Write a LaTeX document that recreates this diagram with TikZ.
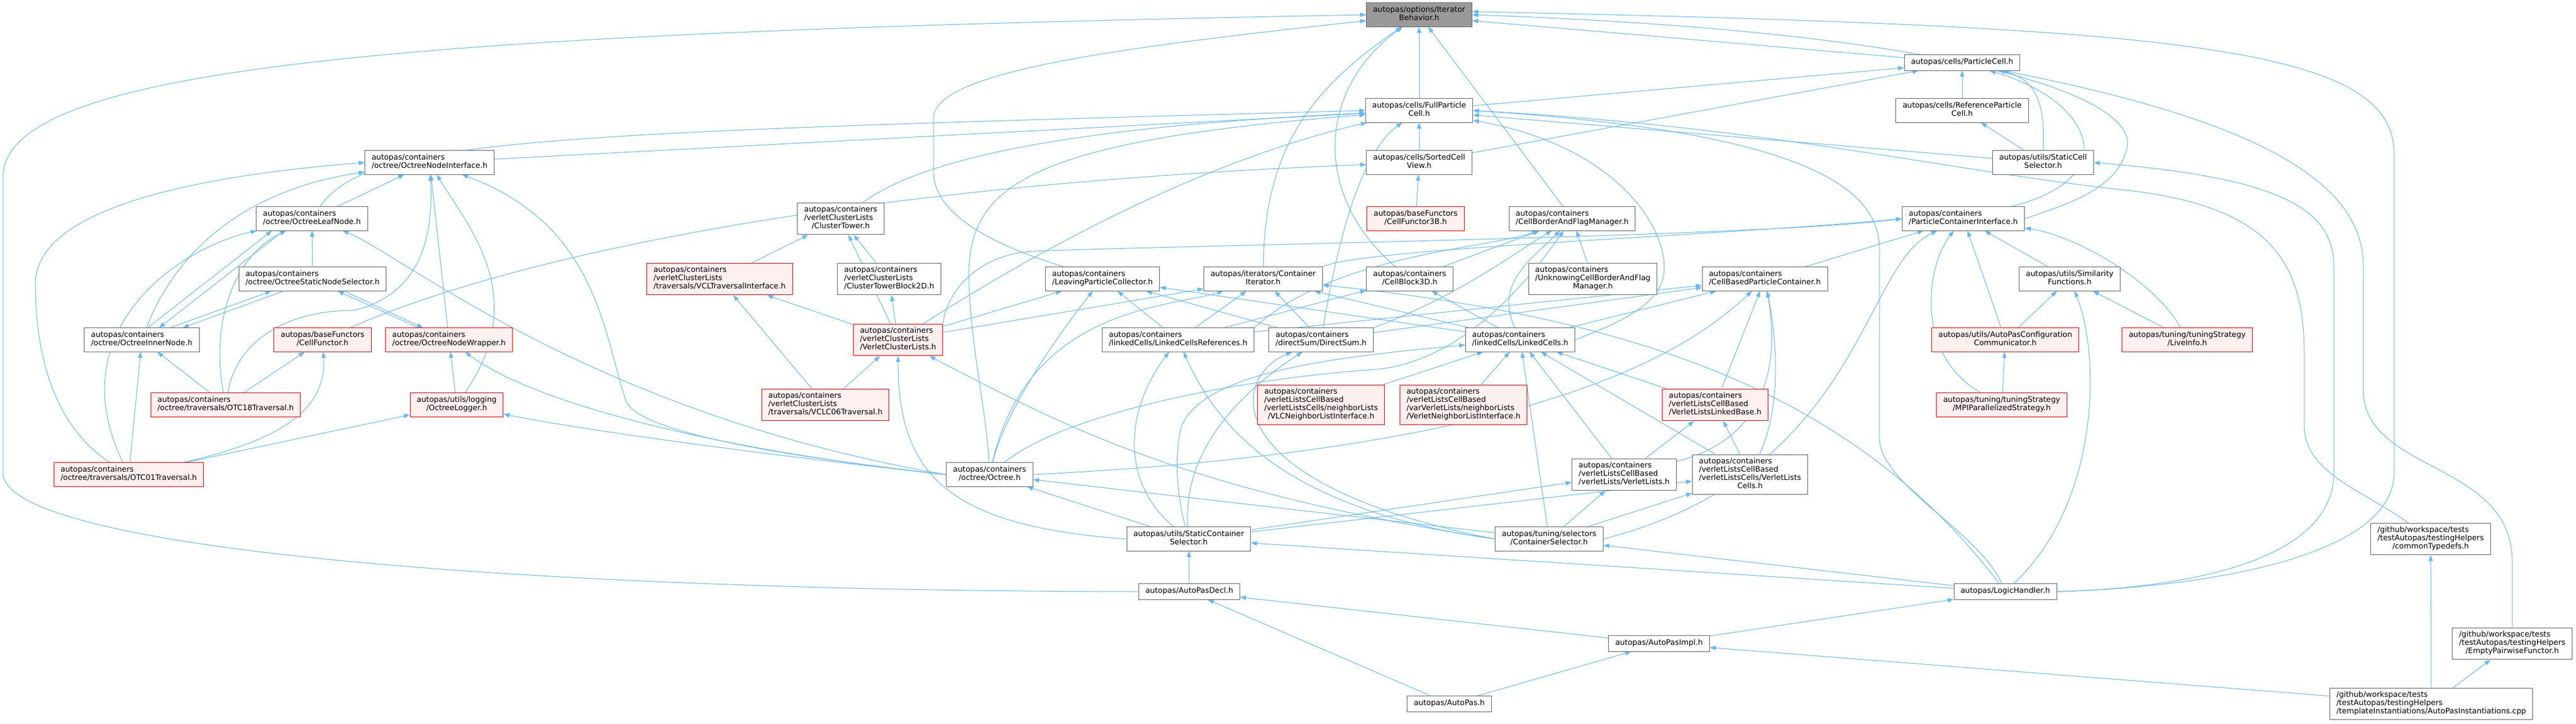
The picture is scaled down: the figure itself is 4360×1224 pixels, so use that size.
\documentclass[tikz,border=0pt]{standalone}
\usepackage{fontspec}
\setmainfont{DejaVu Sans}
\usetikzlibrary{arrows.meta}
\pgfdeclarelayer{background}
\pgfsetlayers{background,main}
\definecolor{edgeblue}{HTML}{63B8FF}
\definecolor{boxgray}{HTML}{666666}
\definecolor{rootgray}{HTML}{999999}
\definecolor{truncpink}{HTML}{FFF0F0}
\newcommand{\hlabel}[2]{\begin{tabular}{@{}l@{}}#1\\\multicolumn{1}{@{}c@{}}{#2}\end{tabular}}
\tikzset{
  incfile/.style={rectangle,draw=boxgray,fill=white,line width=0.75pt,inner xsep=8.5pt,inner ysep=4.6pt,
    font=\fontsize{9.65}{10.3}\selectfont},
  truncfile/.style={incfile,draw=red,fill=truncpink},
  rootfile/.style={incfile,fill=rootgray},
  incl/.style={-{Triangle[length=7.5pt,width=5.5pt]},draw=edgeblue,line width=0.75pt}
}
\begin{document}
\begin{tikzpicture}[x=0.75pt,y=-0.75pt]
\useasboundingbox (0,0) rectangle (4360,1224);

\node at (2402,25) [rootfile] (iterbehavior) {\hlabel{autopas/options/Iterator}{Behavior.h}};
\node at (3321,106) [incfile] (particlecell) {\strut autopas/cells/ParticleCell.h};
\node at (2402,187) [incfile] (fullcell) {\hlabel{autopas/cells/FullParticle}{Cell.h}};
\node at (3321,187) [incfile] (refcell) {\hlabel{autopas/cells/ReferenceParticle}{Cell.h}};
\node at (3458,275) [incfile] (staticcellsel) {\hlabel{autopas/utils/StaticCell}{Selector.h}};
\node at (2402,275) [incfile] (sortedview) {\hlabel{autopas/cells/SortedCell}{View.h}};
\node at (727,275) [incfile] (octnodeif) {\hlabel{autopas/containers}{/octree/OctreeNodeInterface.h}};
\node at (528,370) [incfile] (octleaf) {\hlabel{autopas/containers}{/octree/OctreeLeafNode.h}};
\node at (1423,370) [incfile] (clustertower) {\hlabel{autopas/containers\\/verletClusterLists}{/ClusterTower.h}};
\node at (2396,370) [truncfile] (cellfunctor3b) {\hlabel{autopas/baseFunctors}{/CellFunctor3B.h}};
\node at (2661,370) [incfile] (borderflag) {\hlabel{autopas/containers}{/CellBorderAndFlagManager.h}};
\node at (3323,370) [incfile] (pcinterface) {\hlabel{autopas/containers}{/ParticleContainerInterface.h}};
\node at (529,472) [incfile] (octstaticsel) {\hlabel{autopas/containers}{/octree/OctreeStaticNodeSelector.h}};
\node at (1218,472) [truncfile] (vcltravif) {\hlabel{autopas/containers\\/verletClusterLists}{/traversals/VCLTraversalInterface.h}};
\node at (1505,472) [incfile] (towerblock) {\hlabel{autopas/containers\\/verletClusterLists}{/ClusterTowerBlock2D.h}};
\node at (1866,472) [incfile] (leaving) {\hlabel{autopas/containers}{/LeavingParticleCollector.h}};
\node at (2138,472) [incfile] (contiter) {\hlabel{autopas/iterators/Container}{Iterator.h}};
\node at (2386,472) [incfile] (cellblock) {\hlabel{autopas/containers}{/CellBlock3D.h}};
\node at (2696,472) [incfile] (unknowing) {\hlabel{autopas/containers\\/UnknowingCellBorderAndFlag}{Manager.h}};
\node at (2987,472) [incfile] (cellbased) {\hlabel{autopas/containers}{/CellBasedParticleContainer.h}};
\node at (3503,472) [incfile] (similarity) {\hlabel{autopas/utils/Similarity}{Functions.h}};
\node at (240,575) [incfile] (octinner) {\hlabel{autopas/containers}{/octree/OctreeInnerNode.h}};
\node at (546,575) [truncfile] (cellfunctor) {\hlabel{autopas/baseFunctors}{/CellFunctor.h}};
\node at (760,575) [truncfile] (octwrapper) {\hlabel{autopas/containers}{/octree/OctreeNodeWrapper.h}};
\node at (1520,575) [truncfile] (vcl) {\hlabel{autopas/containers\\/verletClusterLists}{/VerletClusterLists.h}};
\node at (1994,575) [incfile] (lcrefs) {\hlabel{autopas/containers}{/linkedCells/LinkedCellsReferences.h}};
\node at (2236,575) [incfile] (directsum) {\hlabel{autopas/containers}{/directSum/DirectSum.h}};
\node at (2573,575) [incfile] (linkedcells) {\hlabel{autopas/containers}{/linkedCells/LinkedCells.h}};
\node at (3394,575) [truncfile] (configcomm) {\hlabel{autopas/utils/AutoPasConfiguration}{Communicator.h}};
\node at (3702,575) [truncfile] (liveinfo) {\hlabel{autopas/tuning/tuningStrategy}{/LiveInfo.h}};
\node at (382,685) [truncfile] (otc18) {\hlabel{autopas/containers}{/octree/traversals/OTC18Traversal.h}};
\node at (773,685) [truncfile] (octlogger) {\hlabel{autopas/utils/logging}{/OctreeLogger.h}};
\node at (1397,685) [truncfile] (vclc06) {\hlabel{autopas/containers\\/verletClusterLists}{/traversals/VCLC06Traversal.h}};
\node at (2236,685) [truncfile] (vlcnlif) {\hlabel{autopas/containers\\/verletListsCellBased\\/verletListsCells/neighborLists}{/VLCNeighborListInterface.h}};
\node at (2477,685) [truncfile] (verletnlif) {\hlabel{autopas/containers\\/verletListsCellBased\\/varVerletLists/neighborLists}{/VerletNeighborListInterface.h}};
\node at (2903,685) [truncfile] (vllinked) {\hlabel{autopas/containers\\/verletListsCellBased}{/VerletListsLinkedBase.h}};
\node at (3388,685) [truncfile] (mpistrategy) {\hlabel{autopas/tuning/tuningStrategy}{/MPIParallelizedStrategy.h}};
\node at (218,803) [truncfile] (otc01) {\hlabel{autopas/containers}{/octree/traversals/OTC01Traversal.h}};
\node at (1675,803) [incfile] (octree) {\hlabel{autopas/containers}{/octree/Octree.h}};
\node at (2749,803) [incfile] (verletlists) {\hlabel{autopas/containers\\/verletListsCellBased}{/verletLists/VerletLists.h}};
\node at (2962,803) [incfile] (vlcells) {\hlabel{autopas/containers\\/verletListsCellBased\\/verletListsCells/VerletLists}{Cells.h}};
\node at (2012,912) [incfile] (staticcontsel) {\hlabel{autopas/utils/StaticContainer}{Selector.h}};
\node at (2622,912) [incfile] (contsel) {\hlabel{autopas/tuning/selectors}{/ContainerSelector.h}};
\node at (4114,912) [incfile] (commontypedefs) {\hlabel{/github/workspace/tests\\/testAutopas/testingHelpers}{/commonTypedefs.h}};
\node at (2013,1001) [incfile] (autopasdecl) {\strut autopas/AutoPasDecl.h};
\node at (3394,1001) [incfile] (logichandler) {\strut autopas/LogicHandler.h};
\node at (2808,1089) [incfile] (autopasimpl) {\strut autopas/AutoPasImpl.h};
\node at (4252,1089) [incfile] (emptyfunctor) {\hlabel{/github/workspace/tests\\/testAutopas/testingHelpers}{/EmptyPairwiseFunctor.h}};
\node at (2453,1191) [incfile] (autopas) {\strut autopas/AutoPas.h};
\node at (4115,1191) [incfile] (instantiations) {\hlabel{/github/workspace/tests\\/testAutopas/testingHelpers}{/templateInstantiations/AutoPasInstantiations.cpp}};

\coordinate (railW1) at (5,300);
\coordinate (railW2) at (5,800);
\coordinate (railE1) at (4052,260);
\coordinate (railE2) at (4052,800);
\coordinate (railEPF1) at (4000,450);
\coordinate (railEPF2) at (4000,660);
\coordinate (railEPF3) at (4252,950);
\coordinate (railSCS1) at (3950,450);
\coordinate (railSCS2) at (3950,800);
\coordinate (railCTD1) at (3600,322);
\coordinate (railCTD2) at (3900,600);
\coordinate (railCTD3) at (3900,720);
\coordinate (railLH1) at (3181,420);
\coordinate (railLH2) at (3181,740);
\coordinate (railLPC1) at (1580,200);
\coordinate (railLPC2) at (1580,290);
\coordinate (railOT) at (1640,480);
\coordinate (railOT01) at (60,480);
\coordinate (railOT18) at (600,525);
\coordinate (railONI) at (1060,680);
\coordinate (railLCF) at (2815,470);
\coordinate (railCBF) at (2330,625);
\coordinate (railSCoSLC) at (2000,720);
\coordinate (railPCI) at (3600,250);
\coordinate (railVCL) at (1750,425);

\begin{pgfonlayer}{background}
\fill[white] (0,0) rectangle (4360,1224);

\draw[incl] (autopasdecl.west) .. controls (900,1000) and (5,930) .. (railW2) -- (railW1) .. controls (5,110) and (700,55) .. (iterbehavior.west);
\draw[incl] (leaving) .. controls (1700,420) and (1580,370) .. (railLPC2) -- (railLPC1) .. controls (1580,120) and (1900,80) .. ([yshift=-7.5pt]iterbehavior.west);
\draw[incl] (contiter) .. controls (2140,250) and (2220,150) .. (iterbehavior);
\draw[incl] (cellblock) .. controls (2220,330) and (2230,150) .. (iterbehavior);
\draw[incl] (fullcell) -- (iterbehavior);
\draw[incl] (borderflag) -- (iterbehavior);
\draw[incl] (logichandler.east) .. controls (3700,995) and (4052,950) .. (railE2) -- (railE1) .. controls (4052,80) and (3700,45) .. ([yshift=4pt]iterbehavior.east);
\draw[incl] (pcinterface.east) .. controls (3500,345) and (3585,320) .. (railPCI) .. controls (3620,170) and (3350,55) .. (iterbehavior.east);
\draw[incl] (particlecell) -- ([yshift=-7.5pt]iterbehavior.east);

\draw[incl] (fullcell) -- (particlecell);
\draw[incl] (sortedview) -- (particlecell);
\draw[incl] (refcell) -- (particlecell);
\draw[incl] (staticcellsel) .. controls (3460,190) and (3455,135) .. (particlecell);
\draw[incl] (pcinterface) .. controls (3600,300) and (3540,170) .. (particlecell);
\draw[incl] (emptyfunctor.north) -- (railEPF3) .. controls (4252,780) and (4000,800) .. (railEPF2) -- (railEPF1) .. controls (4000,300) and (3800,200) .. (particlecell);

\draw[incl] (sortedview) -- (fullcell);
\draw[incl] (octleaf) .. controls (620,235) and (900,225) .. (fullcell.west);
\draw[incl] (octnodeif) -- (fullcell);
\draw[incl] (clustertower) .. controls (1560,270) and (1800,215) .. (fullcell);
\draw[incl] (octree) .. controls (1670,700) and (1645,600) .. (railOT) .. controls (1635,320) and (1720,240) .. (fullcell);
\draw[incl] (vcl) .. controls (1700,460) and (2000,280) .. (fullcell);
\draw[incl] (directsum) .. controls (2262,420) and (2300,260) .. (fullcell);
\draw[incl] (staticcellsel) -- (fullcell);
\draw[incl] (logichandler) .. controls (3350,900) and (3181,820) .. (railLH2) -- (railLH1) .. controls (3181,300) and (3000,220) .. (fullcell.east);
\draw[incl] (commontypedefs) .. controls (4000,830) and (3900,800) .. (railCTD3) -- (railCTD2) .. controls (3900,450) and (3850,350) .. (railCTD1) .. controls (3300,290) and (3000,215) .. (fullcell.east);
\draw[incl] (linkedcells.east) .. controls (2700,560) and (2800,530) .. (railLCF) .. controls (2830,400) and (2750,250) .. (fullcell);

\draw[incl] (staticcellsel) -- (refcell);
\draw[incl] (logichandler.east) .. controls (3700,995) and (3950,950) .. (railSCS2) -- (railSCS1) .. controls (3950,350) and (3850,300) .. (staticcellsel.east);
\draw[incl] (cellfunctor3b) -- (sortedview);
\draw[incl] (cellfunctor) .. controls (900,420) and (1500,310) .. (sortedview);

\draw[incl] (octleaf) -- (octnodeif);
\draw[incl] (octinner) .. controls (300,420) and (420,320) .. (octnodeif);
\draw[incl] (otc01) .. controls (120,740) and (60,650) .. (railOT01) .. controls (60,360) and (300,300) .. (octnodeif.west);
\draw[incl] (otc18) .. controls (400,580) and (480,525) .. (railOT18) .. controls (700,500) and (735,420) .. (octnodeif);
\draw[incl] (octwrapper) -- (octnodeif);
\draw[incl] (octlogger) .. controls (900,500) and (790,380) .. (octnodeif);
\draw[incl] (octree.west) .. controls (1400,780) and (1090,740) .. (railONI) .. controls (1020,560) and (1010,380) .. (octnodeif);

\draw[incl] ([xshift=7.5pt]octinner.north) -- ([xshift=-51pt]octleaf.south);
\draw[incl] (otc18) .. controls (355,540) and (400,430) .. (octleaf);
\draw[incl] (otc01) .. controls (100,560) and (300,420) .. (octleaf);
\draw[incl] (octstaticsel) -- (octleaf);
\draw[incl] (octree.west) .. controls (1000,700) and (680,430) .. (octleaf);
\draw[incl] ([xshift=-36pt]octleaf.south) -- ([xshift=22pt]octinner.north);
\draw[incl] ([xshift=-36.75pt]octstaticsel.south) -- ([xshift=52pt]octinner.north);
\draw[incl] (otc01) -- (octinner);
\draw[incl] (otc18) -- (octinner);
\draw[incl] ([xshift=36pt]octinner.north) -- ([xshift=-52.5pt]octstaticsel.south);
\draw[incl] ([xshift=-39pt]octwrapper.north) -- ([xshift=32pt]octstaticsel.south);
\draw[incl] ([xshift=40pt]octstaticsel.south) -- ([xshift=-33pt]octwrapper.north);
\draw[incl] (octlogger) -- (octwrapper);
\draw[incl] (octree.west) .. controls (1200,760) and (900,680) .. (octwrapper);

\draw[incl] (vcltravif) -- (clustertower);
\draw[incl] (vcl) -- (clustertower);
\draw[incl] (towerblock) -- (clustertower);

\draw[incl] (cellblock) -- (borderflag);
\draw[incl] (directsum.north east) .. controls (2470,500) and (2560,430) .. (borderflag);
\draw[incl] (linkedcells) .. controls (2530,480) and (2590,440) .. (borderflag);
\draw[incl] (lcrefs.north east) .. controls (2260,430) and (2520,420) .. (borderflag);
\draw[incl] (unknowing) -- (borderflag);
\draw[incl] (octree) .. controls (1800,700) and (2100,640) .. (railCBF) .. controls (2480,610) and (2590,470) .. (borderflag);

\draw[incl] (cellbased) -- (pcinterface);
\draw[incl] (vcl.north east) .. controls (1600,500) and (1650,430) .. (railVCL) .. controls (2000,415) and (3000,400) .. (pcinterface.west);
\draw[incl] (similarity) -- (pcinterface);
\draw[incl] (configcomm) -- (pcinterface);
\draw[incl] (mpistrategy) .. controls (3240,600) and (3260,450) .. (pcinterface);
\draw[incl] (liveinfo) .. controls (3650,480) and (3520,400) .. (pcinterface);
\draw[incl] (contsel.east) .. controls (3150,800) and (3150,450) .. (pcinterface);
\draw[incl] (contiter.north east) .. controls (2300,420) and (2900,400) .. (pcinterface.west);

\draw[incl] (vcl) -- (vcltravif);
\draw[incl] (vclc06) -- (vcltravif);
\draw[incl] (vcl) -- (towerblock);

\draw[incl] (vcl) -- (leaving);
\draw[incl] (octree) .. controls (1700,700) and (1780,580) .. (leaving);
\draw[incl] (lcrefs) -- (leaving);
\draw[incl] (linkedcells) -- (leaving);
\draw[incl] (directsum) -- (leaving);

\draw[incl] (vcl) -- (contiter);
\draw[incl] (lcrefs) -- (contiter);
\draw[incl] (directsum) -- (contiter);
\draw[incl] (linkedcells) -- (contiter);
\draw[incl] (octree) .. controls (1740,520) and (1980,520) .. (contiter);
\draw[incl] (logichandler) .. controls (3150,680) and (2800,540) .. (contiter);

\draw[incl] (linkedcells) -- (cellblock);
\draw[incl] (lcrefs) -- (cellblock);

\draw[incl] (directsum) -- (cellbased);
\draw[incl] (lcrefs) -- (cellbased);
\draw[incl] (linkedcells) -- (cellbased);
\draw[incl] (vllinked) -- (cellbased);
\draw[incl] (octree.east) .. controls (2600,760) and (2850,600) .. (cellbased);
\draw[incl] (verletlists) .. controls (3000,740) and (3010,600) .. (cellbased);
\draw[incl] (vlcells) .. controls (3010,700) and (3012,600) .. (cellbased);

\draw[incl] (logichandler) .. controls (3555,850) and (3555,600) .. (similarity);
\draw[incl] (configcomm) -- (similarity);
\draw[incl] (liveinfo) -- (similarity);

\draw[incl] (otc18) -- (cellfunctor);
\draw[incl] (otc01) .. controls (500,740) and (552,680) .. (cellfunctor);

\draw[incl] (vclc06) -- (vcl);
\draw[incl] (staticcontsel.west) .. controls (1600,890) and (1520,800) .. (vcl);
\draw[incl] (contsel.west) .. controls (2000,830) and (1800,720) .. (vcl);
\draw[incl] (staticcontsel) .. controls (1900,820) and (1900,700) .. (lcrefs);
\draw[incl] (contsel.west) .. controls (2150,860) and (2050,700) .. (lcrefs);
\draw[incl] (staticcontsel) .. controls (2000,750) and (2120,650) .. (directsum);
\draw[incl] (contsel.west) .. controls (2060,820) and (2080,640) .. (directsum);

\draw[incl] (vlcnlif) -- (linkedcells);
\draw[incl] (verletnlif) -- (linkedcells);
\draw[incl] (contsel) -- (linkedcells);
\draw[incl] (verletlists) -- (linkedcells);
\draw[incl] (vlcells) -- (linkedcells);
\draw[incl] (vllinked) -- (linkedcells);
\draw[incl] (staticcontsel) .. controls (1995,850) and (1985,780) .. (railSCoSLC) .. controls (2040,630) and (2250,605) .. (linkedcells);

\draw[incl] (mpistrategy) -- (configcomm);
\draw[incl] (otc01) -- (octlogger);
\draw[incl] (octree.west) .. controls (1300,770) and (1000,730) .. (octlogger);
\draw[incl] (verletlists) -- (vllinked);
\draw[incl] (vlcells) -- (vllinked);

\draw[incl] (staticcontsel) -- (octree);
\draw[incl] (contsel) -- (octree);
\draw[incl] (staticcontsel) -- (verletlists);
\draw[incl] (contsel) -- (verletlists);
\draw[incl] (staticcontsel) -- (vlcells);
\draw[incl] (contsel) -- (vlcells);

\draw[incl] (autopasdecl) -- (staticcontsel);
\draw[incl] (logichandler) -- (staticcontsel);
\draw[incl] (logichandler) -- (contsel);
\draw[incl] (instantiations) -- (commontypedefs);
\draw[incl] (autopasimpl) -- (autopasdecl);
\draw[incl] (autopas) -- (autopasdecl);
\draw[incl] (autopasimpl) -- (logichandler);
\draw[incl] (autopas) -- (autopasimpl);
\draw[incl] (instantiations) -- (autopasimpl);
\draw[incl] (instantiations) -- (emptyfunctor);
\end{pgfonlayer}
\end{tikzpicture}
\end{document}
